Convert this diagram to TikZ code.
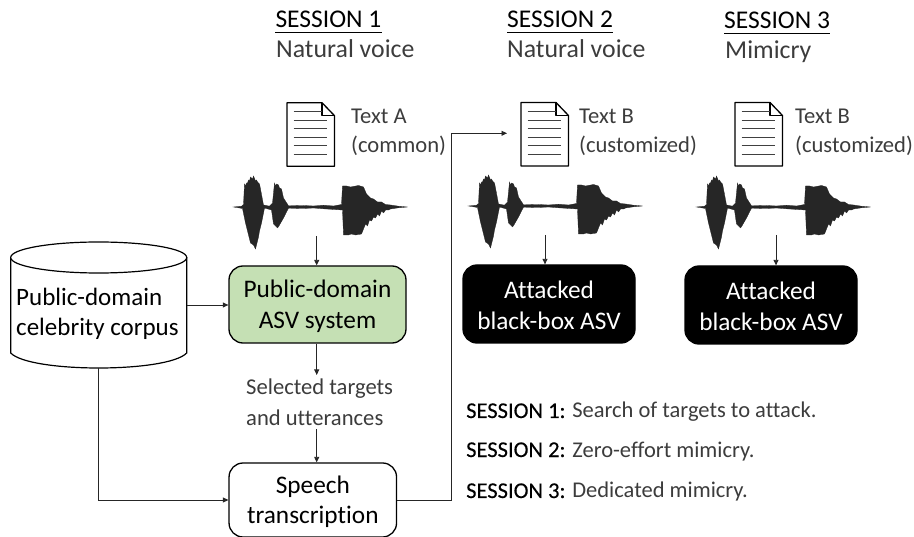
\documentclass[tikz,border=0pt]{standalone}
\usepackage{fontspec}
\setmainfont{Carlito}[Ligatures=NoCommon]
\usetikzlibrary{arrows.meta}
\definecolor{lighttext}{HTML}{3C3C3C}
\definecolor{greenfill}{HTML}{C5E0B4}
\definecolor{wavecol}{HTML}{262626}
\newcommand{\firstline}{\rule{0pt}{21pt}}
\newcommand{\sesslabel}[1]{{\addfontfeature{FakeBold=0.25}\textcolor{black}{#1}}}
\tikzset{
  x=1pt,y=-1pt,
  conn/.style={draw=black!85,line width=0.9pt,-{Triangle[length=5.5pt,width=5pt]}},
  plainconn/.style={draw=black!85,line width=0.9pt},
  flow/.style={rectangle,rounded corners=14pt,draw=black,line width=1.3pt,inner sep=0pt,align=center,font=\fontsize{25.3}{31}\selectfont},
  blackbox/.style={flow,fill=black,text=white},
  head/.style={inner sep=0pt,anchor=base west,font=\fontsize{25.5}{30}\selectfont,text=black},
  sub/.style={inner sep=0pt,anchor=base west,font=\fontsize{25.8}{30}\selectfont,text=lighttext},
  lab/.style={inner sep=0pt,anchor=base west,font=\fontsize{22.6}{29}\selectfont,text=lighttext},
  note/.style={inner sep=0pt,anchor=base west,font=\fontsize{22.5}{26}\selectfont,text=lighttext},
  wave/.pic={
    \fill[wavecol,draw=wavecol,line width=0.3pt] (0,0) -- (8,-0.8) -- (10,-2.5) -- (11,-23) -- (12,-21) -- (13,-24) -- (14,-24) -- (15,-27) -- (16,-26) -- (17,-30) -- (19,-28) -- (20,-31) -- (22,-26) -- (23,-27) -- (24,-25) -- (26,-23) -- (27,-18) -- (30,-2) -- (36,-0.8) -- (39,-4) -- (41,-24) -- (42,-21) -- (43,-23) -- (45,-22) -- (46,-19) -- (48,-18) -- (50,-9) -- (55,-1.2) -- (70,-1.5) -- (80,-1) -- (90,-1.8) -- (100,-1) -- (108,-2.5) -- (109,-21) -- (113,-21) -- (117,-20) -- (125,-21.5) -- (130,-20) -- (133,-13) -- (137,-9) -- (140,-8) -- (144,-5) -- (148,-5) -- (152,-2.5) -- (157,-2) -- (165,-0.8) -- (174,0)
    -- (165,0.8) -- (157,2) -- (155,3) -- (152,3) -- (150,6) -- (148,4) -- (146,9) -- (144,7) -- (142,11) -- (140,10) -- (138,14) -- (136,13) -- (134,19) -- (132,17) -- (130,22) -- (128,27) -- (122,28) -- (118,27) -- (115,28) -- (110,28) -- (109,3) -- (90,1.8) -- (80,1) -- (70,1.5) -- (55,1.2) -- (50,11) -- (46,18) -- (44,21) -- (42,19) -- (40,17) -- (38,3) -- (31,1) -- (28,16) -- (26,24) -- (25,30) -- (23,38) -- (22,42) -- (20,38) -- (17,36) -- (15,28) -- (12,16) -- (9,1.5) -- cycle;
  },
  doc/.pic={
    \draw[black,line width=1.3pt,line join=round,fill=white] (0,0) -- (35,0) -- (47.5,13) -- (47.5,63.5) -- (0,63.5) -- cycle;
    \draw[black,line width=1.3pt,line join=round] (35,0) -- (35,13) -- (47.5,13);
    \foreach \yy in {9,17.5,26,34.5,43,52}{
      \draw[black!75,line width=0.9pt] (6.5,\yy) -- ({\yy<12?35:40},\yy);
    }
  }
}
\begin{document}
\begin{tikzpicture}
\useasboundingbox (0,0) rectangle (914,537);
\clip (0,0) rectangle (914,537);
% cylinder
\draw[black,line width=1.2pt,fill=white] (10.7,257.5) -- (10.7,353) .. controls (30,373) and (167.4,373) .. (186.7,353) -- (186.7,257.5);
\draw[black,line width=1.2pt,fill=white] (98.7,257.5) ellipse[x radius=88,y radius=15.5];
\node[inner sep=0pt,minimum width=176pt,minimum height=126pt] (corpus) at (98.7,305) {};
\node[inner sep=0pt,anchor=base west,align=left,font=\fontsize{25}{30.5}\selectfont] (corpustext) at (16,336) {Public-domain\\celebrity corpus};
% boxes
\node[flow,fill=greenfill,minimum width=177pt,minimum height=77pt] (asv) at (317.5,304.5) {\firstline Public-domain\\ASV system};
\node[flow,fill=white,minimum width=167.5pt,minimum height=74pt] (speech) at (312.8,500) {\firstline Speech\\[-1pt]transcription};
\node[blackbox,minimum width=172pt,minimum height=78pt] (black1) at (549,304) {\firstline Attacked\\black-box ASV};
\node[blackbox,minimum width=172pt,minimum height=78pt] (black2) at (771,305) {\firstline Attacked\\black-box ASV};
% headers
\node[head] (s1) at (275.3,28) {SESSION 1};
\node[head] (s2) at (507,28) {SESSION 2};
\node[head] (s3) at (724,29) {SESSION 3};
\foreach \n in {s1,s2,s3}{
  \draw[black,line width=1.1pt] ([yshift=-4.5pt]\n.base west) -- ([yshift=-4.5pt]\n.base east);
}
\node[sub] (n1) at (276,58) {Natural voice};
\node[sub] (n2) at (507,58) {Natural voice};
\node[sub] (n3) at (725,59) {Mimicry};
% documents
\pic at (287,102.7) {doc};
\pic at (521,102.5) {doc};
\pic at (735,102.5) {doc};
\node[lab] (ta) at (351,124) {Text A};
\node[lab] (tac) at (351,153) {(common)};
\node[lab] (tb) at (579,124) {Text B};
\node[lab] (tbc) at (579,153) {(customized)};
\node[lab] (tb2) at (795,124) {Text B};
\node[lab] (tbc2) at (795,153) {(customized)};
% waves
\pic at (233.5,207) {wave};
\pic at (468.5,206) {wave};
\pic at (696.5,207) {wave};
\coordinate (w1) at (316.7,236);
\coordinate (w2) at (545,235);
\coordinate (w3) at (776,235);
\coordinate (bend) at (451.7,133.3);
\coordinate (docin) at (507,133.3);
% selected label
\node[inner sep=0pt,align=left,anchor=north west,font=\fontsize{22.6}{31}\selectfont,text=lighttext,minimum height=54pt] (sel) at (246,375) {Selected targets\\and utterances};
% notes
\node[note] (l1) at (466,418) {\sesslabel{SESSION 1:} Search of targets to attack.};
\node[note] (l2) at (466,457) {\sesslabel{SESSION 2:} Zero-effort mimicry.};
\node[note] (l3) at (466,498) {\sesslabel{SESSION 3:} Dedicated mimicry.};
% connectors
\draw[conn] (w1) -- (w1 |- asv.north);
\draw[conn] (w2) -- (w2 |- black1.north);
\draw[conn] (w3) -- (w3 |- black2.north);
\draw[conn] (corpus.east) -- (corpus.east -| asv.west);
\draw[conn] (corpus.south) |- (speech.west);
\draw[conn] (w1 |- asv.south) -- (w1 |- sel.north);
\draw[conn] (w1 |- sel.south) -- (w1 |- speech.north);
\draw[plainconn] (speech.east) -| (bend);
\draw[conn] (bend) -- (docin);
\end{tikzpicture}
\end{document}
